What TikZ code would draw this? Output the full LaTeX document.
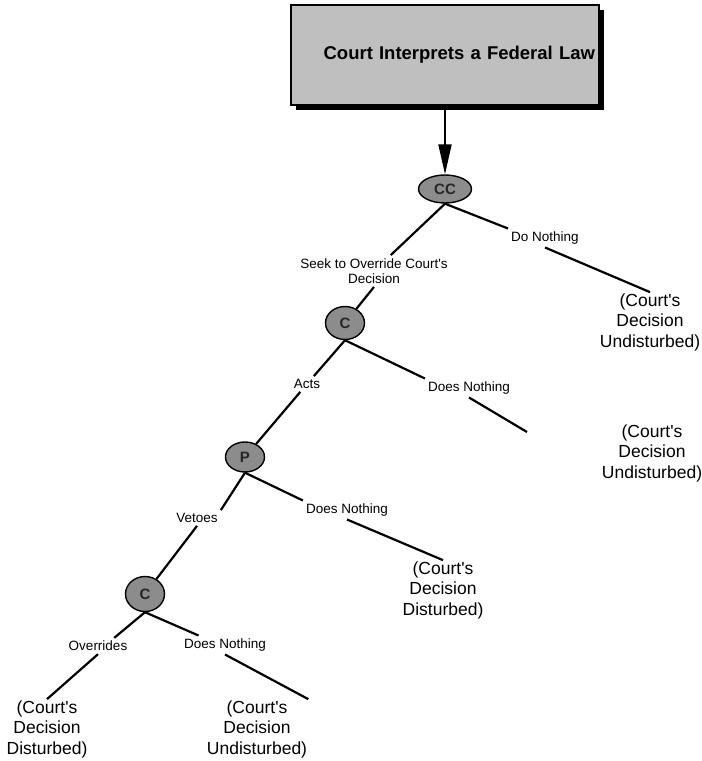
\documentclass[tikz,border=0pt]{standalone}
\usepackage{fontspec}
\setmainfont{Liberation Sans}
\usetikzlibrary{shapes.geometric,arrows.meta,shadows,calc}
\newcommand{\cs}{Court\textquotesingle s}
\begin{document}
\begin{tikzpicture}[x=1pt,y=-1pt,
  conn/.style={line width=2.2pt},
  playr/.style={ellipse, draw, line width=1.4pt, fill=black!45, inner sep=0pt,
    text=black!85, font=\fontsize{15}{15}\selectfont\bfseries},
  lbl/.style={inner sep=3pt, font=\fontsize{13.5}{15.5}\selectfont, align=center},
  res/.style={inner sep=1pt, font=\fontsize{17.5}{20.5}\selectfont, align=center},
  titlebox/.style={draw, line width=1.5pt, fill=black!25, minimum width=308pt,
    minimum height=100pt, inner xsep=4pt, text width=300pt, align=right,
    drop shadow={shadow xshift=5pt, shadow yshift=-5pt, fill=black, opacity=1},
    font=\fontsize{18.5}{22}\selectfont\bfseries}
]
\useasboundingbox (0,0) rectangle (702,761);

% title
\node[titlebox] (top) at (445,55) {Court Interprets a Federal Law};

% decision nodes
\node[playr, minimum width=53pt, minimum height=28pt] (cc) at (445,189) {CC};
\node[playr, minimum width=39pt, minimum height=33pt] (c1) at (345,323) {C};
\node[playr, minimum width=39pt, minimum height=30pt] (p)  at (245,457) {P};
\node[playr, minimum width=39pt, minimum height=35pt] (c2) at (145,594) {C};

% labels
\node[lbl] (ln1)  at (545,238) {Do Nothing};
\node[lbl] (ls)   at (374,271) {Seek to Override \cs\\Decision};
\node[lbl] (ln2)  at (469,388) {Does Nothing};
\node[lbl] (lacts) at (307,384) {Acts};
\node[lbl] (ln3)  at (347,510) {Does Nothing};
\node[lbl] (lvet) at (197,518) {Vetoes};
\node[lbl] (lovr) at (98,646) {Overrides};
\node[lbl] (ln4)  at (225,645) {Does Nothing};

% outcomes
\node[res] (r1) at (650,322) {(\cs\\Decision\\Undisturbed)};
\node[res] (r2) at (652,453) {(\cs\\Decision\\Undisturbed)};
\node[res] (r3) at (443,590) {(\cs\\Decision\\Disturbed)};
\node[res] (r4) at (47,729) {(\cs\\Decision\\Disturbed)};
\node[res] (r5) at (257,729) {(\cs\\Decision\\Undisturbed)};

\coordinate (e2) at (527,432);

% connectors
\draw[line width=2pt, -{Triangle[length=30pt, width=13pt]}] (top) -- (cc);

\draw[conn] (cc.south) -- (ln1.north west);
\draw[conn] (ln1.south) -- (r1.north);
\draw[conn] (cc.south) -- (ls);
\draw[conn] (ls.south) -- (c1);

\draw[conn] (c1.south) -- (lacts);
\draw[conn] (lacts) -- (p);
\draw[conn] (c1.south) -- (ln2.north west);
\draw[conn] (ln2.south) -- (e2);

\draw[conn] (p.south) -- (lvet.north east);
\draw[conn] (lvet.south) -- (c2);
\draw[conn] (p.south) -- (ln3.north west);
\draw[conn] (ln3.south) -- (r3.north);

\draw[conn] (c2.south) -- ($(lovr.north)!.5!(lovr.north east)$);
\draw[conn] (lovr.south) -- (r4.north);
\draw[conn] (c2.south) -- ($(ln4.north west)!.2!(ln4.north east)$);
\draw[conn] (ln4.south) -- (r5.north east);
\end{tikzpicture}
\end{document}
